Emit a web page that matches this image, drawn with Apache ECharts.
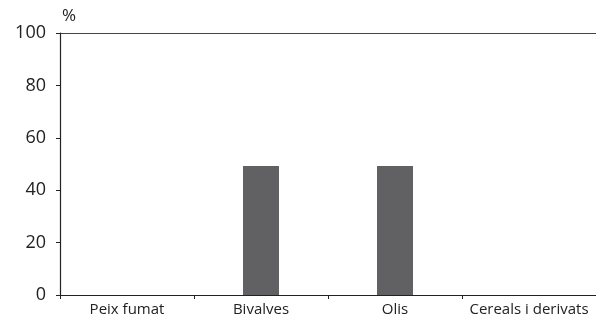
<!DOCTYPE html>
<html><head><meta charset="utf-8">
<script src="https://cdn.jsdelivr.net/npm/echarts@6/dist/echarts.min.js"></script>
<style>html,body{margin:0;padding:0;background:#fff}#c{width:596px;height:319px}</style>
</head><body><div id="c"></div>
<script>
const categories = ['Peix fumat', 'Bivalves', 'Olis', 'Cereals i derivats'];
const values = [0, 49.2, 49.2, 0];
const yTicks = [0, 20, 40, 60, 80, 100];

const chart = echarts.init(document.getElementById('c'), null, {renderer: 'canvas'});
chart.setOption({
  animation: false,
  grid: {left: 60, right: 0, top: 33, bottom: 24, containLabel: false},
  graphic: [{type: 'text', left: 62, top: 8, style: {text: '%', font: '17px "Open Sans"', fill: '#222'}}],
  xAxis: {
    type: 'category', data: categories,
    axisLine: {lineStyle: {color: '#222', width: 1.2}},
    axisTick: {show: true, interval: 0, alignWithLabel: false, length: 4, lineStyle: {color: '#222'}},
    axisLabel: {interval: 0, color: '#222', fontFamily: 'Open Sans', fontSize: 15, margin: 7},
    splitLine: {show: false}
  },
  yAxis: {
    type: 'value', min: 0, max: 100, interval: 20,
    axisLine: {show: true, lineStyle: {color: '#222', width: 1.2}},
    axisTick: {show: true, length: 4, lineStyle: {color: '#222'}},
    axisLabel: {color: '#222', fontFamily: 'Open Sans', fontSize: 18, margin: 14,
      formatter: v => yTicks.includes(v) ? String(v) : ''},
    splitLine: {show: true, lineStyle: {color: ['transparent','transparent','transparent','transparent','transparent','#444'], width: 1.2}}
  },
  series: [{
    type: 'bar', data: values, barWidth: 36,
    itemStyle: {color: '#616163'}
  }]
});
</script></body></html>
